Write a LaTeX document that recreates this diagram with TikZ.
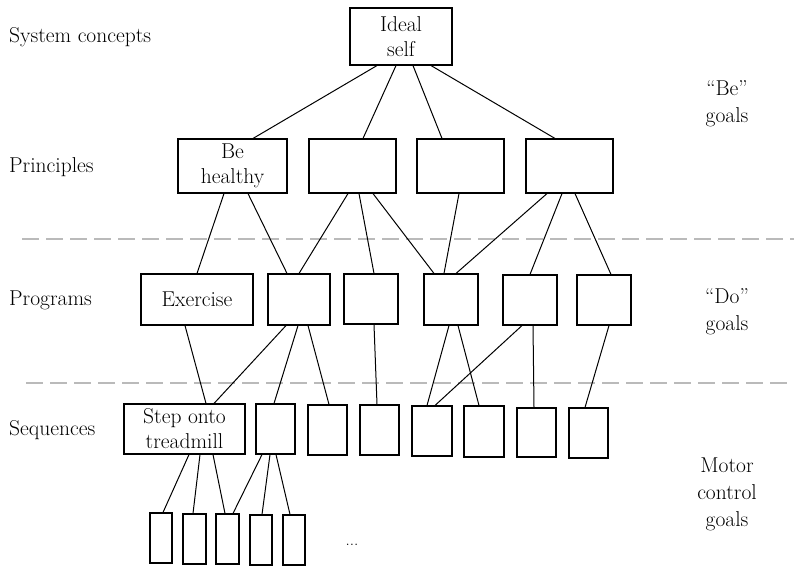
\documentclass[tikz,border=0pt]{standalone}
\usetikzlibrary{calc}
\newcommand\lblfont{\fontsize{21.5}{25}\selectfont}
% \bx{name}{x1}{y1}{x2}{y2}{text}: rectangle given by its corners
\newcommand\bx[6]{\node[box, minimum width={#4-#2}, minimum height={#5-#3}] (#1) at ({(#2+#4)/2},{(#3+#5)/2}) {#6};}
% \lnk{upper}{x on its bottom}{lower}{x on its top}
\newcommand\lnk[4]{\draw[link] (#1.south -| #2,0) -- (#3.north -| #4,0);}
\begin{document}
\begin{tikzpicture}[x=1pt,y=-1pt,
  box/.style={draw=black, line width=1.1pt, inner sep=0pt, align=center, font=\lblfont},
  link/.style={line width=1.0pt},
  sep/.style={draw=black!27, line width=1.2pt, dash pattern=on 17pt off 7pt},
  lvl/.style={anchor=base west, inner sep=0pt, font=\lblfont},
  goal/.style={align=center, inner sep=0pt, font=\fontsize{21.5}{27}\selectfont}]
\useasboundingbox[fill=white] (0,0) rectangle (794,566);

% level separators
\draw[sep] (22,239) -- (794,239);
\draw[sep] (26,383) -- (794,383);

% level names
\node[lvl] (l1) at (9,42) {System concepts};
\node[lvl] (l2) at (9,172) {Principles};
\node[lvl] (l3) at (9,305) {Programs};
\node[lvl] (l4) at (9,435) {Sequences};

% goal kinds
\node[goal] (g1) at (727,104) {``Be''\\goals};
\node[goal] (g2) at (727,312) {``Do''\\goals};
\node[goal] (g3) at (727,494) {Motor\\control\\goals};

% system concept
\bx{ideal}{350}{8}{452}{65}{Ideal\\self}
% principles
\bx{bh}{178}{139}{287}{193}{Be\\healthy}
\bx{pr2}{309}{139}{396}{193}{}
\bx{pr3}{417}{139}{504}{193}{}
\bx{pr4}{526}{139}{613}{193}{}
% programs
\bx{ex}{141}{274}{253}{325}{Exercise}
\bx{pg2}{268}{274}{330}{325}{}
\bx{pg3}{344}{274}{398}{324}{}
\bx{pg4}{424}{274}{478}{325}{}
\bx{pg5}{503}{275}{557}{325}{}
\bx{pg6}{577}{275}{631}{325}{}
% sequences
\bx{step}{124}{404}{245}{454}{Step onto\\treadmill}
\bx{sq2}{256}{404}{295}{454}{}
\bx{sq3}{308}{405}{347}{455}{}
\bx{sq4}{360}{405}{399}{455}{}
\bx{sq5}{412}{406}{452}{456}{}
\bx{sq6}{464}{406}{504}{457}{}
\bx{sq7}{517}{408}{556}{457}{}
\bx{sq8}{569}{408}{608}{458}{}
% lowest level
\bx{b1}{150}{513}{172}{563}{}
\bx{b2}{183}{514}{206}{564}{}
\bx{b3}{216}{514}{239}{564}{}
\bx{b4}{250}{515}{272}{565}{}
\bx{b5}{283}{515}{305}{565}{}
\node[font=\fontsize{17}{20}\selectfont, inner sep=0pt, anchor=base] (more) at (352,545) {...};

% links
\lnk{ideal}{377}{bh}{253}
\lnk{ideal}{396}{pr2}{363}
\lnk{ideal}{413}{pr3}{442}
\lnk{ideal}{431}{pr4}{555}

\lnk{bh}{224}{ex}{197}
\lnk{bh}{248}{pg2}{287}
\lnk{pr2}{348}{pg2}{299}
\lnk{pr2}{359}{pg3}{374}
\lnk{pr2}{373}{pg4}{434}
\lnk{pr3}{459}{pg4}{444}
\lnk{pr4}{547}{pg4}{456}
\lnk{pr4}{562}{pg5}{530}
\lnk{pr4}{575}{pg6}{611}

\lnk{ex}{185}{step}{206}
\lnk{pg2}{286}{step}{214}
\lnk{pg2}{298}{sq2}{274}
\lnk{pg2}{308}{sq3}{329}
\lnk{pg3}{374}{sq4}{377}
\lnk{pg4}{449}{sq5}{427}
\lnk{pg4}{458}{sq6}{479}
\lnk{pg5}{522}{sq5}{435}
\lnk{pg5}{533}{sq7}{534}
\lnk{pg6}{609}{sq8}{585}

\lnk{step}{189}{b1}{163}
\lnk{step}{200}{b2}{193}
\lnk{step}{213}{b3}{225}
\lnk{sq2}{262}{b3}{233}
\lnk{sq2}{270}{b4}{262}
\lnk{sq2}{276}{b5}{290}
\end{tikzpicture}
\end{document}
